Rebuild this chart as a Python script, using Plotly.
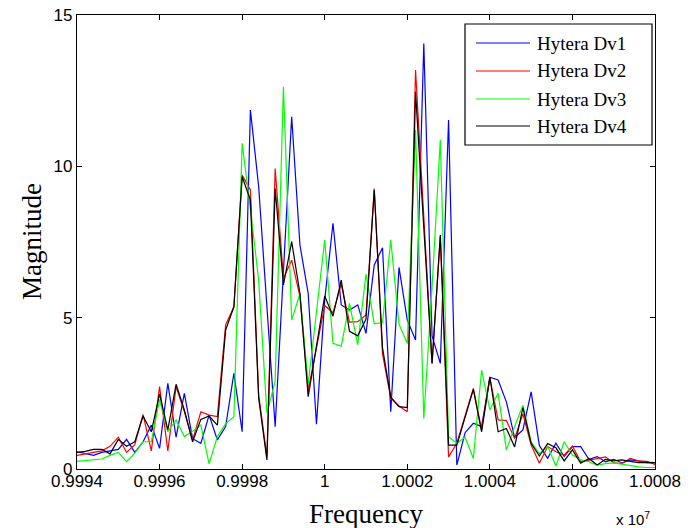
import plotly.graph_objects as go

# Frequency bins (Hz): 200 Hz spacing from 9.994 MHz to 10.008 MHz
f_start = 9.994e6
f_step = 200.0
n_bins = 71
freq = [f_start + f_step * k for k in range(n_bins)]

dv1 = [0.57, 0.50, 0.45, 0.55, 0.60, 0.65, 0.98, 0.55, 0.90, 1.45,
       0.68, 2.83, 1.05, 2.50, 1.00, 0.85, 1.78, 0.96, 1.40, 3.16,
       1.23, 11.86, 9.33, 5.50, 1.40, 6.52, 11.64, 7.40, 5.80, 1.48,
       5.58, 8.12, 5.42, 5.25, 5.42, 4.48, 6.74, 7.31, 1.89, 6.66,
       4.92, 4.26, 14.06, 4.40, 3.49, 11.53, 0.13, 1.20, 1.51, 1.40,
       3.03, 2.94, 2.22, 1.04, 1.29, 2.55, 0.77, 0.35, 0.85, 0.41,
       0.74, 0.74, 0.32, 0.41, 0.24, 0.32, 0.20, 0.30, 0.27, 0.21,
       0.21]
dv2 = [0.45, 0.50, 0.55, 0.60, 0.75, 1.05, 0.55, 0.80, 1.80, 0.60,
       2.72, 0.60, 2.72, 1.90, 0.95, 1.89, 1.78, 1.73, 4.76, 5.36,
       9.71, 9.22, 2.45, 0.41, 9.93, 6.30, 6.90, 5.70, 2.60, 4.00,
       5.40, 5.16, 6.10, 4.85, 4.87, 5.09, 9.27, 3.80, 2.34, 2.08,
       1.89, 13.18, 8.30, 3.49, 7.67, 0.40, 0.85, 1.80, 2.66, 1.30,
       3.00, 1.62, 1.60, 1.01, 1.82, 0.79, 0.19, 0.74, 0.57, 0.46,
       0.76, 0.24, 0.30, 0.35, 0.40, 0.20, 0.18, 0.35, 0.27, 0.25,
       0.15]
dv3 = [0.25, 0.27, 0.30, 0.33, 0.45, 0.55, 0.24, 0.52, 0.90, 0.90,
       2.30, 1.23, 1.62, 1.07, 1.25, 1.45, 0.17, 1.07, 1.50, 1.73,
       10.76, 8.60, 6.24, 1.84, 2.90, 12.63, 4.92, 5.80, 2.80, 5.10,
       7.57, 4.15, 4.06, 5.47, 4.10, 6.44, 4.80, 4.84, 7.57, 4.78,
       4.15, 11.20, 1.67, 6.00, 10.87, 1.07, 0.85, 1.05, 0.35, 3.27,
       1.95, 2.50, 0.63, 1.40, 2.11, 0.90, 0.50, 0.74, 0.10, 0.90,
       0.46, 0.30, 0.24, 0.13, 0.18, 0.20, 0.15, 0.10, 0.07, 0.05,
       0.05]
dv4 = [0.55, 0.58, 0.65, 0.65, 0.50, 0.98, 0.75, 0.90, 1.75, 1.23,
       2.48, 1.29, 2.80, 1.95, 0.90, 1.64, 1.75, 1.45, 4.59, 5.36,
       9.66, 8.89, 2.35, 0.30, 9.27, 6.08, 7.51, 5.80, 2.39, 4.10,
       5.72, 5.05, 6.24, 4.55, 4.40, 4.95, 9.22, 4.00, 2.37, 2.06,
       2.03, 12.46, 8.00, 3.49, 7.73, 0.79, 0.79, 1.70, 2.63, 1.23,
       3.04, 1.23, 1.34, 0.73, 2.03, 0.85, 0.43, 0.84, 0.70, 0.27,
       0.63, 0.19, 0.35, 0.13, 0.32, 0.27, 0.30, 0.25, 0.21, 0.22,
       0.21]

series_names = ["Hytera Dv1", "Hytera Dv2", "Hytera Dv3", "Hytera Dv4"]
series_values = [dv1, dv2, dv3, dv4]
series_colors = ["#0000ff", "#ff0000", "#00ff00", "#000000"]

x_tickvals = [9.994e6, 9.996e6, 9.998e6, 1.0e7, 1.0002e7, 1.0004e7, 1.0006e7, 1.0008e7]
x_ticktext = ["0.9994", "0.9996", "0.9998", "1", "1.0002", "1.0004", "1.0006", "1.0008"]
y_tickvals = [0, 5, 10, 15]

W, H = 691, 528
ML, MR, MT, MB = 77, 36, 15, 59
PW, PH = W - ML - MR, H - MT - MB

fig = go.Figure()
for name, vals, col in zip(series_names, series_values, series_colors):
    fig.add_trace(go.Scatter(x=freq, y=vals, mode="lines", name=name,
                             line=dict(color=col, width=1.2),
                             showlegend=False))


def px_x(p):
    return (p - ML) / PW


def px_y(p):
    return (H - MB - p) / PH


# Boxed legend in the upper right corner
shapes = [dict(type="rect", xref="paper", yref="paper",
               x0=px_x(465), x1=px_x(652), y0=px_y(145), y1=px_y(24),
               line=dict(color="black", width=1.2), fillcolor="white", layer="above")]
annotations = []
row_y = [43, 71, 99, 126]
for name, col, ry in zip(series_names, series_colors, row_y):
    shapes.append(dict(type="line", xref="paper", yref="paper",
                       x0=px_x(476), x1=px_x(530), y0=px_y(ry), y1=px_y(ry),
                       line=dict(color=col, width=1.2), layer="above"))
    annotations.append(dict(xref="paper", yref="paper", x=px_x(535), y=px_y(ry),
                            text=name, showarrow=False, xanchor="left", yanchor="middle",
                            font=dict(family="Liberation Serif", size=19, color="black")))

# Axis titles
annotations.append(dict(xref="paper", yref="paper", x=0.5, y=px_y(514),
                        text="Frequency", showarrow=False,
                        xanchor="center", yanchor="middle",
                        font=dict(family="Liberation Serif", size=27, color="black")))
annotations.append(dict(xref="paper", yref="paper", x=px_x(32), y=0.5,
                        text="Magnitude", showarrow=False, textangle=-90,
                        xanchor="center", yanchor="middle",
                        font=dict(family="Liberation Serif", size=27, color="black")))

# Exponent label for the frequency axis
annotations.append(dict(xref="paper", yref="paper", x=px_x(614), y=px_y(518),
                        text="x 10<sup>7</sup>", showarrow=False,
                        xanchor="left", yanchor="middle",
                        font=dict(family="Liberation Sans", size=15, color="black")))

fig.update_layout(
    width=W, height=H,
    margin=dict(l=ML, r=MR, t=MT, b=MB, autoexpand=False),
    paper_bgcolor="white", plot_bgcolor="white",
    shapes=shapes, annotations=annotations,
    xaxis=dict(range=[9.994e6, 1.0008e7], tickvals=x_tickvals, ticktext=x_ticktext,
               showgrid=False, zeroline=False, showline=True, linecolor="black",
               linewidth=1.2, mirror="ticks", ticks="inside", ticklen=5,
               tickcolor="black", automargin=False, ticklabelstandoff=-4,
               tickfont=dict(family="Liberation Sans", size=17, color="black")),
    yaxis=dict(range=[0, 15], tickvals=y_tickvals,
               showgrid=False, zeroline=False, showline=True, linecolor="black",
               linewidth=1.2, mirror="ticks", ticks="inside", ticklen=5,
               tickcolor="black", automargin=False,
               tickfont=dict(family="Liberation Sans", size=17, color="black")),
)

fig.write_html("out.html")
